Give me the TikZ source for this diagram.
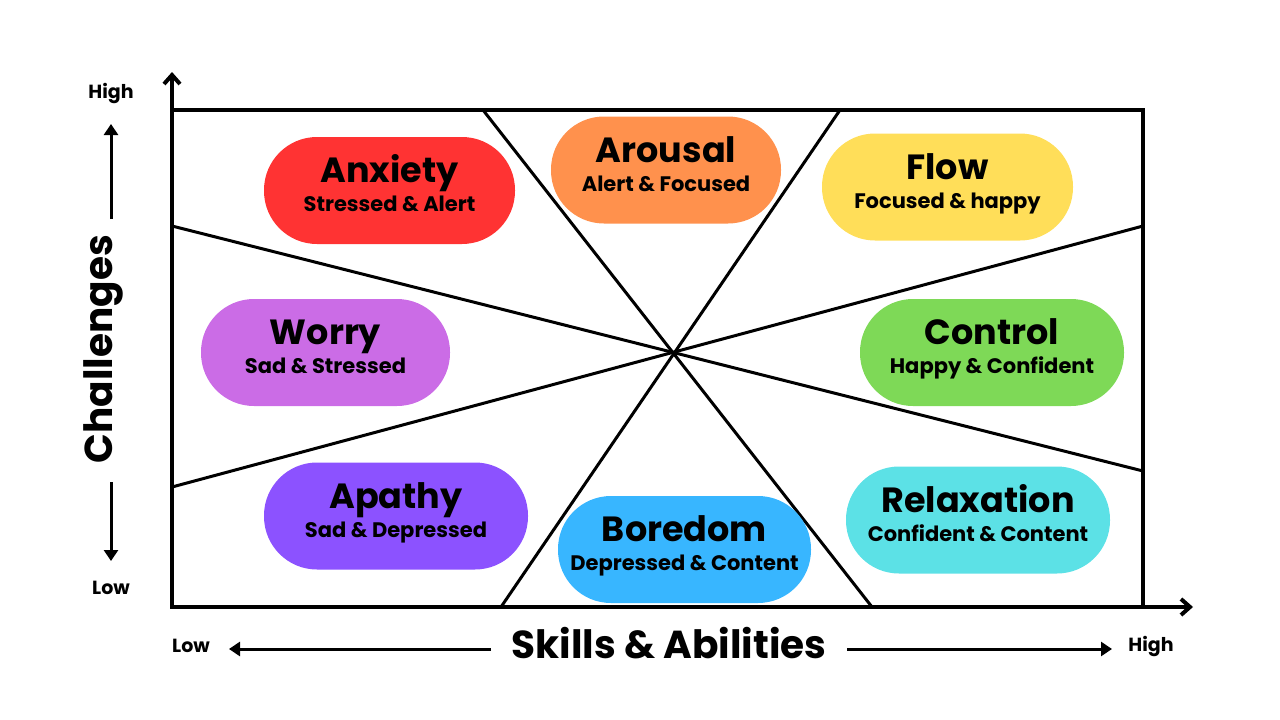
\documentclass[tikz,border=0pt]{standalone}
\usepackage{fontspec}
\setmainfont{Poppins}
\usetikzlibrary{arrows.meta}
\definecolor{cAnx}{HTML}{FF3333}
\definecolor{cAro}{HTML}{FF914D}
\definecolor{cFlow}{HTML}{FFDE59}
\definecolor{cWor}{HTML}{CB6CE6}
\definecolor{cCon}{HTML}{7ED957}
\definecolor{cApa}{HTML}{8C52FF}
\definecolor{cBor}{HTML}{38B6FF}
\definecolor{cRel}{HTML}{5CE1E6}
\tikzset{
  pill/.style={rounded corners=53pt, inner sep=0pt, minimum height=107pt, align=center, font=\bfseries},
  ttl/.style={font=\fontsize{35}{38}\selectfont\bfseries},
  sub/.style={font=\fontsize{21}{23}\selectfont\bfseries},
  axline/.style={line width=4pt, -{Straight Barb[length=9pt,width=16pt,line width=4pt]}},
  divline/.style={line width=3pt},
  small/.style={font=\fontsize{19}{21}\selectfont\bfseries},
  big/.style={font=\fontsize{39}{42}\selectfont\bfseries},
  sarrow/.style={line width=3pt, -{Triangle[length=11pt,width=14pt]}}
}
\newcommand{\pillnode}[6]{%
  \node[pill, fill=#2, minimum width=#3pt] (#1) at (#4) {};
  \node[ttl, anchor=base] (#1t) at ([yshift=8pt]#1.center) {#5};
  \node[sub, anchor=base] (#1s) at ([yshift=-21pt]#1.center) {#6};
}
\begin{document}
\begin{tikzpicture}[x=1pt,y=-1pt]
\useasboundingbox (0,0) rectangle (1280,720);
% box
\coordinate (TL) at (172,110);
\coordinate (TR) at (1143,110);
\coordinate (BR) at (1143,607);
\coordinate (BL) at (172,607);
\draw[line width=3.5pt] (TL) -- (TR) -- (BR);
% dividers
\coordinate (d1a) at (483,110); \coordinate (d1b) at (872,607);
\coordinate (d2a) at (840,110); \coordinate (d2b) at (501,607);
\coordinate (d3a) at (172,226); \coordinate (d3b) at (1143,471);
\coordinate (d4a) at (172,487); \coordinate (d4b) at (1143,226);
\draw[divline] (d1a) -- (d1b);
\draw[divline] (d2a) -- (d2b);
\draw[divline] (d3a) -- (d3b);
\draw[divline] (d4a) -- (d4b);
% axes
\coordinate (ytip) at (172,72);
\coordinate (xtip) at (1193,607);
\draw[axline] (BL) -- (ytip);
\draw[axline] ([xshift=-2pt]BL) -- (xtip);
% pills
\pillnode{anx}{cAnx}{251}{389.5,190.5}{Anxiety}{Stressed \& Alert}
\pillnode{aro}{cAro}{230}{666,170}{Arousal}{Alert \& Focused}
\pillnode{flow}{cFlow}{251}{947.5,187}{Flow}{Focused \& happy}
\pillnode{wor}{cWor}{249}{325.5,352.5}{Worry}{Sad \& Stressed}
\pillnode{con}{cCon}{264}{992,352.5}{Control}{Happy \& Confident}
\pillnode{apa}{cApa}{264}{396,516}{Apathy}{Sad \& Depressed}
\pillnode{bor}{cBor}{253}{684.5,549.5}{Boredom}{Depressed \& Content}
\pillnode{rel}{cRel}{264}{978,520}{Relaxation}{Confident \& Content}
% y label
\node[big, rotate=90] (chal) at (103,349) {Challenges};
\node[small] (yhigh) at (111,94) {High};
\node[small] (ylow) at (111,588) {Low};
\coordinate (yua) at (111,219); \coordinate (yub) at (111,124);
\coordinate (yda) at (111,482); \coordinate (ydb) at (111,561);
\draw[sarrow] (yua) -- (yub);
\draw[sarrow] (yda) -- (ydb);
% x label
\node[big] (skills) at (669,643) {Skills \& Abilities};
\node[small] (xlow) at (191,646) {Low};
\node[small] (xhigh) at (1151,646) {High};
\coordinate (xla) at (491,649); \coordinate (xlb) at (229,649);
\coordinate (xra) at (847,649); \coordinate (xrb) at (1112,649);
\draw[sarrow] (xla) -- (xlb);
\draw[sarrow] (xra) -- (xrb);
\end{tikzpicture}
\end{document}
